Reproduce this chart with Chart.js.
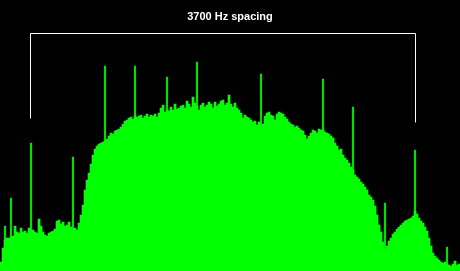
<!DOCTYPE html>
<html>
<head>
<meta charset="utf-8">
<script src="https://cdn.jsdelivr.net/npm/chart.js@4/dist/chart.umd.min.js"></script>
<style>
  html, body { margin: 0; padding: 0; background: #000; }
  #wrap { width: 460px; height: 271px; position: relative; }
</style>
</head>
<body>
<div id="wrap"><canvas id="spec"></canvas></div>
<script>
// spectrum level per 2px bin (arbitrary units above floor)
const levels = [
  9, 23, 31, 33, 33, 34, 35, 45, 39, 38, 43, 39, 40, 38, 43, 41, 41, 39, 38, 52,
  45, 39, 36, 35, 38, 39, 40, 42, 50, 51, 47, 49, 45, 46, 49, 44, 42, 43, 41, 48, 56,
  66, 81, 91, 98, 107, 116, 122, 125, 127, 128, 129, 130, 132, 135, 138, 137, 140, 141, 142,
  144, 147, 150, 151, 153, 154, 152, 155, 154, 155,
  156, 153, 155, 157, 154, 156, 155, 157, 154, 158, 163, 166, 159, 161, 160, 164, 161, 167, 162, 163,
  165, 166, 163, 170, 167, 164, 174, 168, 165, 161,
  166, 168, 164, 166, 169, 167, 163, 169, 165, 167, 170, 171, 166, 168, 176, 167, 164, 168, 163, 161,
  158, 153, 156, 154, 153, 151, 149, 150, 146, 149,
  146, 147, 155, 158, 159, 156, 155, 151, 157, 159, 158, 157, 154, 152, 149, 147, 146, 144, 145, 143,
  141, 140, 136, 132, 135, 138, 141, 140, 138, 142,
  141, 141, 139, 138, 137, 135, 133, 128, 125, 121, 122, 116, 113, 111, 108, 104, 101, 96, 94, 92,
  89, 87, 84, 81, 76, 74, 71, 65, 56, 46,
  39, 29, 21, 25, 30, 33, 37, 39, 42, 44, 46, 48, 50, 51, 52, 53, 55, 60, 57, 53,
  50, 48, 44, 40, 33, 25, 18, 15, 13, 11, 9, 8, 9, 7, 6, 5, 7, 10, 6, 7
];

// narrow carrier spikes: bin index and level
const spikeBins   = [2, 5, 15, 36, 52, 67, 83, 98, 130, 161, 176, 192, 207, 223];
const spikeLevels = [45, 73, 128, 114, 205, 205, 194, 209, 197, 192, 164, 68, 121, 24];

// bracket between the two marked spikes
const bracketBins   = [15, 207];
const bracketLevels = [153, 238, 149];   // left end, top, right end

const titleText = '3700 Hz spacing';

const bins = levels.map((v, i) => i);
const spikes = levels.map(() => null);
spikeBins.forEach((b, k) => { spikes[b] = spikeLevels[k]; });

const bracketPlugin = {
  id: 'bracket',
  afterDatasetsDraw(chart) {
    const { ctx, scales } = chart;
    const x1 = Math.round(scales.x.getPixelForValue(bracketBins[0])) - 0.5;
    const x2 = Math.round(scales.x.getPixelForValue(bracketBins[1])) + 0.5;
    const yL = Math.round(scales.y.getPixelForValue(bracketLevels[0])) + 0.5;
    const yT = Math.round(scales.y.getPixelForValue(bracketLevels[1])) + 0.5;
    const yR = Math.round(scales.y.getPixelForValue(bracketLevels[2])) + 0.5;
    ctx.save();
    ctx.strokeStyle = '#ffffff';
    ctx.lineWidth = 1;
    ctx.beginPath();
    ctx.moveTo(x1, yL);
    ctx.lineTo(x1, yT);
    ctx.lineTo(x2, yT);
    ctx.lineTo(x2, yR);
    ctx.stroke();
    ctx.restore();
  }
};

new Chart(document.getElementById('spec'), {
  type: 'bar',
  data: {
    labels: bins,
    datasets: [
      {
        data: levels,
        backgroundColor: '#00ff00',
        borderWidth: 0,
        barPercentage: 1,
        categoryPercentage: 1,
        grouped: false,
        order: 0
      },
      {
        data: spikes,
        backgroundColor: '#00e000',
        borderWidth: 0,
        barThickness: 1.5,
        grouped: false,
        order: 1
      }
    ]
  },
  options: {
    responsive: true,
    maintainAspectRatio: false,
    animation: false,
    layout: { padding: 0 },
    scales: {
      x: { display: false },
      y: { display: false, min: 0, max: 248 }
    },
    plugins: {
      legend: { display: false },
      tooltip: { enabled: false },
      title: {
        display: true,
        text: titleText,
        color: '#ffffff',
        font: { family: 'Liberation Sans', size: 11, weight: 'bold' },
        padding: { top: 10, bottom: 0 }
      }
    }
  },
  plugins: [bracketPlugin]
});
</script>
</body>
</html>
